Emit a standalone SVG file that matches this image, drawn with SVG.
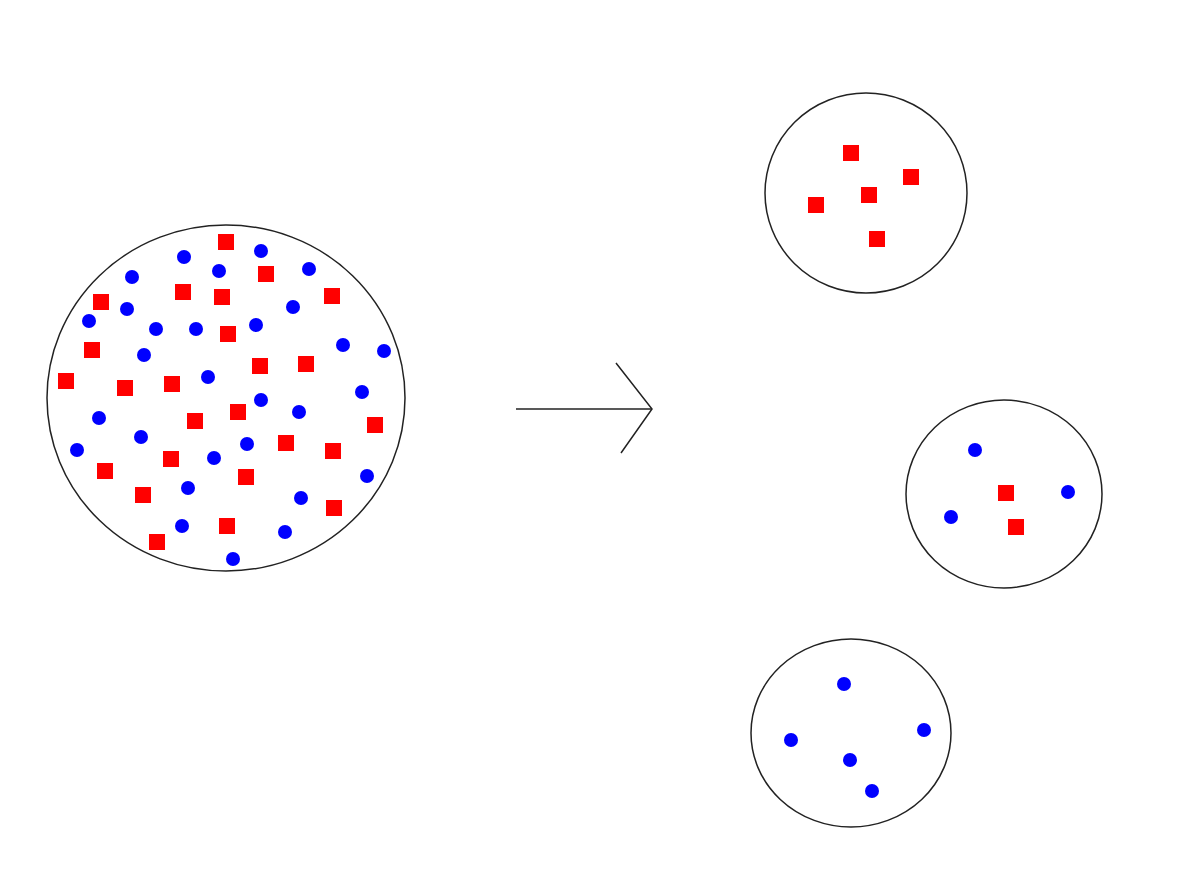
<svg xmlns="http://www.w3.org/2000/svg" width="1200" height="881" viewBox="0 0 1200 881">
<defs>
<style>
.c{fill:none;stroke:#222;stroke-width:1.5}
.a{fill:none;stroke:#222;stroke-width:1.5}
</style>
<rect id="sq" x="-8" y="-8" width="16" height="16" fill="#ff0000"/>
<circle id="dt" r="7" fill="#0000ff"/>
</defs>
<rect width="1200" height="881" fill="#ffffff"/>
<g id="big">
<ellipse class="c" cx="226" cy="398" rx="179" ry="173"/>
<use href="#sq" x="226" y="242"/><use href="#sq" x="266" y="274"/><use href="#sq" x="183" y="292"/><use href="#sq" x="222" y="297"/><use href="#sq" x="101" y="302"/><use href="#sq" x="332" y="296"/><use href="#sq" x="228" y="334"/><use href="#sq" x="92" y="350"/><use href="#sq" x="260" y="366"/><use href="#sq" x="306" y="364"/><use href="#sq" x="66" y="381"/><use href="#sq" x="125" y="388"/><use href="#sq" x="172" y="384"/><use href="#sq" x="195" y="421"/><use href="#sq" x="238" y="412"/><use href="#sq" x="375" y="425"/><use href="#sq" x="286" y="443"/><use href="#sq" x="333" y="451"/><use href="#sq" x="171" y="459"/><use href="#sq" x="105" y="471"/><use href="#sq" x="246" y="477"/><use href="#sq" x="143" y="495"/><use href="#sq" x="334" y="508"/><use href="#sq" x="227" y="526"/><use href="#sq" x="157" y="542"/>
<use href="#dt" x="184" y="257"/><use href="#dt" x="261" y="251"/><use href="#dt" x="132" y="277"/><use href="#dt" x="219" y="271"/><use href="#dt" x="309" y="269"/><use href="#dt" x="127" y="309"/><use href="#dt" x="89" y="321"/><use href="#dt" x="156" y="329"/><use href="#dt" x="196" y="329"/><use href="#dt" x="256" y="325"/><use href="#dt" x="293" y="307"/><use href="#dt" x="144" y="355"/><use href="#dt" x="343" y="345"/><use href="#dt" x="384" y="351"/><use href="#dt" x="208" y="377"/><use href="#dt" x="362" y="392"/><use href="#dt" x="99" y="418"/><use href="#dt" x="261" y="400"/><use href="#dt" x="299" y="412"/><use href="#dt" x="141" y="437"/><use href="#dt" x="247" y="444"/><use href="#dt" x="77" y="450"/><use href="#dt" x="214" y="458"/><use href="#dt" x="367" y="476"/><use href="#dt" x="188" y="488"/><use href="#dt" x="301" y="498"/><use href="#dt" x="182" y="526"/><use href="#dt" x="285" y="532"/><use href="#dt" x="233" y="559"/>
</g>
<g id="connectors">
<line class="a" x1="516" y1="409" x2="652" y2="409"/>
<polyline class="a" points="616,363 652,409 621,453"/>
</g>
<g id="top">
<ellipse class="c" cx="866" cy="193" rx="101" ry="100"/>
<use href="#sq" x="851" y="153"/><use href="#sq" x="911" y="177"/><use href="#sq" x="869" y="195"/><use href="#sq" x="816" y="205"/><use href="#sq" x="877" y="239"/>
</g>
<g id="middle">
<ellipse class="c" cx="1004" cy="494" rx="98" ry="94"/>
<use href="#dt" x="975" y="450"/><use href="#dt" x="1068" y="492"/><use href="#dt" x="951" y="517"/>
<use href="#sq" x="1006" y="493"/><use href="#sq" x="1016" y="527"/>
</g>
<g id="bottom">
<ellipse class="c" cx="851" cy="733" rx="100" ry="94"/>
<use href="#dt" x="844" y="684"/><use href="#dt" x="924" y="730"/><use href="#dt" x="791" y="740"/><use href="#dt" x="850" y="760"/><use href="#dt" x="872" y="791"/>
</g>
</svg>
